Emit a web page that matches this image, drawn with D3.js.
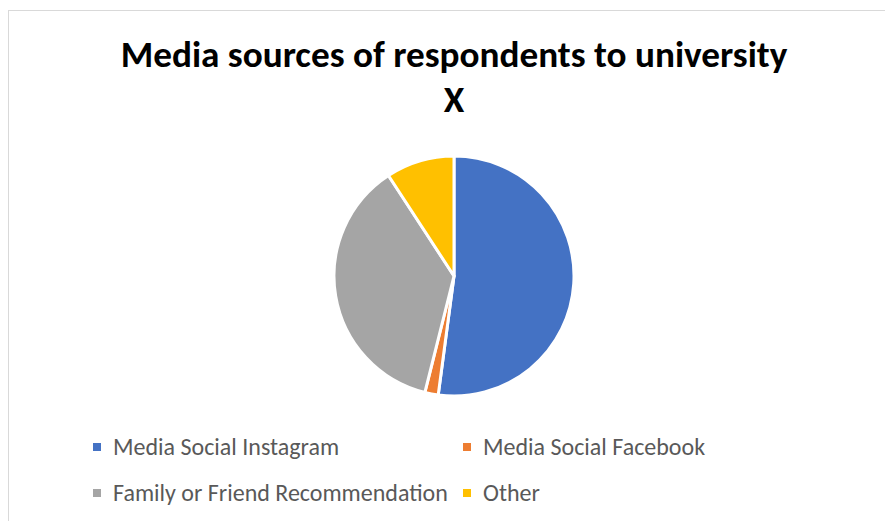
<!DOCTYPE html>
<html>
<head>
<meta charset="utf-8">
<script src="https://cdn.jsdelivr.net/npm/d3@7"></script>
<style>
  body { margin: 0; background: #fff; }
  svg { display: block; }
</style>
</head>
<body>
<svg id="chart" width="885" height="521"></svg>
<script>
var categories = ['Media Social Instagram', 'Media Social Facebook', 'Family or Friend Recommendation', 'Other'];
var values = [52.1, 1.8, 36.9, 9.2];
var colors = ['#4472c4', '#ed7d31', '#a5a5a5', '#ffc000'];
var titleLines = ['Media sources of respondents to university', 'X'];

var width = 885, height = 521;
var svg = d3.select('#chart');

// chart area border (left + top only visible)
svg.append('rect')
    .attr('x', 8.5)
    .attr('y', 10.5)
    .attr('width', 900)
    .attr('height', 600)
    .attr('fill', '#fff')
    .attr('stroke', '#d9d9d9')
    .attr('stroke-width', 1);

// title
var title = svg.append('g');
title.selectAll('text')
    .data(titleLines)
    .enter().append('text')
    .attr('x', 454)
    .attr('y', function(d, i) { return 67 + i * 45; })
    .attr('text-anchor', 'middle')
    .style('font-family', 'Calibri, Carlito, "Open Sans", sans-serif')
    .style('font-weight', 'bold')
    .style('font-size', '31px')
    .style('fill', '#000')
    .text(function(d) { return d; });

// size the title so the first line spans the original width
var first = title.select('text').node();
var fs = 31 * 667 / first.getComputedTextLength();
title.selectAll('text').style('font-size', fs + 'px');

// pie
var color = d3.scaleOrdinal().domain(categories).range(colors);
var pie = d3.pie().sort(null).value(function(d, i) { return values[i]; });
var arc = d3.arc().innerRadius(0).outerRadius(120);

svg.append('g')
    .attr('transform', 'translate(454,276)')
    .selectAll('path')
    .data(pie(categories))
    .enter().append('path')
    .attr('d', arc)
    .attr('fill', function(d) { return color(d.data); })
    .attr('stroke', '#fff')
    .attr('stroke-width', 3)
    .attr('stroke-linejoin', 'round');

// legend
var legendPos = [[93, 447], [463, 447], [93, 493], [463, 493]];
var legend = svg.append('g')
    .selectAll('g')
    .data(categories)
    .enter().append('g')
    .attr('transform', function(d, i) { return 'translate(' + legendPos[i][0] + ',' + legendPos[i][1] + ')'; });

legend.append('rect')
    .attr('x', 0)
    .attr('y', -4)
    .attr('width', 8)
    .attr('height', 8)
    .attr('fill', function(d) { return color(d); });

legend.append('text')
    .attr('x', 20)
    .attr('y', 0)
    .attr('dy', '0.35em')
    .style('font-family', 'Calibri, Carlito, "Open Sans", sans-serif')
    .style('font-size', '20px')
    .style('fill', '#595959')
    .text(function(d) { return d; });

// size legend labels from the widest one
var widest = legend.filter(function(d, i) { return i === 2; }).select('text').node();
var lfs = 20 * 335 / widest.getComputedTextLength();
legend.select('text').style('font-size', lfs + 'px');
</script>
</body>
</html>
